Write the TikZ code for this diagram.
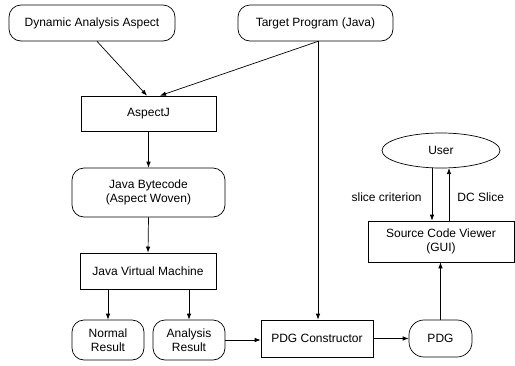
\documentclass[tikz,border=0pt]{standalone}
\usepackage{fontspec}
\setmainfont{Liberation Sans}
\usetikzlibrary{arrows.meta,shapes.geometric}
\begin{document}
\begin{tikzpicture}[x=1pt,y=-1pt,
  every node/.style={font=\fontsize{12}{14.5}\selectfont, align=center, inner sep=0pt},
  rbox/.style={draw, line width=0.7pt, rounded corners=12pt},
  sbox/.style={draw, line width=0.7pt},
  arr/.style={line width=0.7pt, -{Latex[length=6pt,width=4.5pt]}},
  ln/.style={line width=0.7pt}]
\useasboundingbox (0,0) rectangle (515,365);
\node[rbox, minimum width=166pt, minimum height=36pt] (daa) at (92,23) {Dynamic Analysis Aspect};
\node[rbox, minimum width=155pt, minimum height=36pt] (tp) at (315.5,23) {Target Program (Java)};
\node[sbox, minimum width=135pt, minimum height=35pt] (aj) at (148.5,113.5) {AspectJ};
\node[rbox, minimum width=153pt, minimum height=49pt] (jb) at (148.5,192.5) {Java Bytecode\\(Aspect Woven)};
\node[sbox, minimum width=136pt, minimum height=36pt] (jvm) at (148,271) {Java Virtual Machine};
\node[rbox, minimum width=72pt, minimum height=40pt] (nr) at (108,340) {Normal\\Result};
\node[rbox, minimum width=72pt, minimum height=40pt] (ar) at (189,340) {Analysis\\Result};
\node[sbox, minimum width=112pt, minimum height=37pt] (pdgc) at (317,338.5) {PDG Constructor};
\node[rbox, rounded corners=15pt, minimum width=63pt, minimum height=37pt] (pdg) at (440.5,338.5) {PDG};
\node[sbox, minimum width=146pt, minimum height=41pt] (scv) at (441,241.5) {Source Code Viewer\\(GUI)};
\node[draw, ellipse, line width=0.7pt, minimum width=118pt, minimum height=35pt] (user) at (441,150.5) {User};
% connectors
\coordinate (daaout) at (daa.south -| 97,0);
\coordinate (ajin1) at (aj.north -| 147,0);
\coordinate (ajin2) at (aj.north -| 160,0);
\coordinate (tpout) at (tp.south -| 318,0);
\draw[arr] (daaout) -- (ajin1);
\draw[arr] (tpout) -- (ajin2);
\draw[arr] (tpout) -- (tpout |- pdgc.north);
\draw[arr] (aj.south) -- (jb.north);
\draw[arr] (jb.south) -- (jvm.north);
\draw[arr] (nr.north |- jvm.south) -- (nr.north);
\draw[arr] (ar.north |- jvm.south) -- (ar.north);
\draw[arr] (ar.east) -- (ar.east -| pdgc.west);
\draw[arr] (pdgc.east) -- (pdgc.east -| pdg.west);
\draw[arr] (pdg.north) -- (pdg.north |- scv.south);
\coordinate (sc) at ([xshift=-9pt]user.south);
\coordinate (dc) at ([xshift=8pt,yshift=0.3pt]user.south);
\draw[arr] (sc) -- node[left=10pt, pos=0.55]{slice criterion} (sc |- scv.north);
\draw[arr] (dc |- scv.north) -- node[right=8pt, pos=0.45]{DC Slice} (dc);
\end{tikzpicture}
\end{document}
